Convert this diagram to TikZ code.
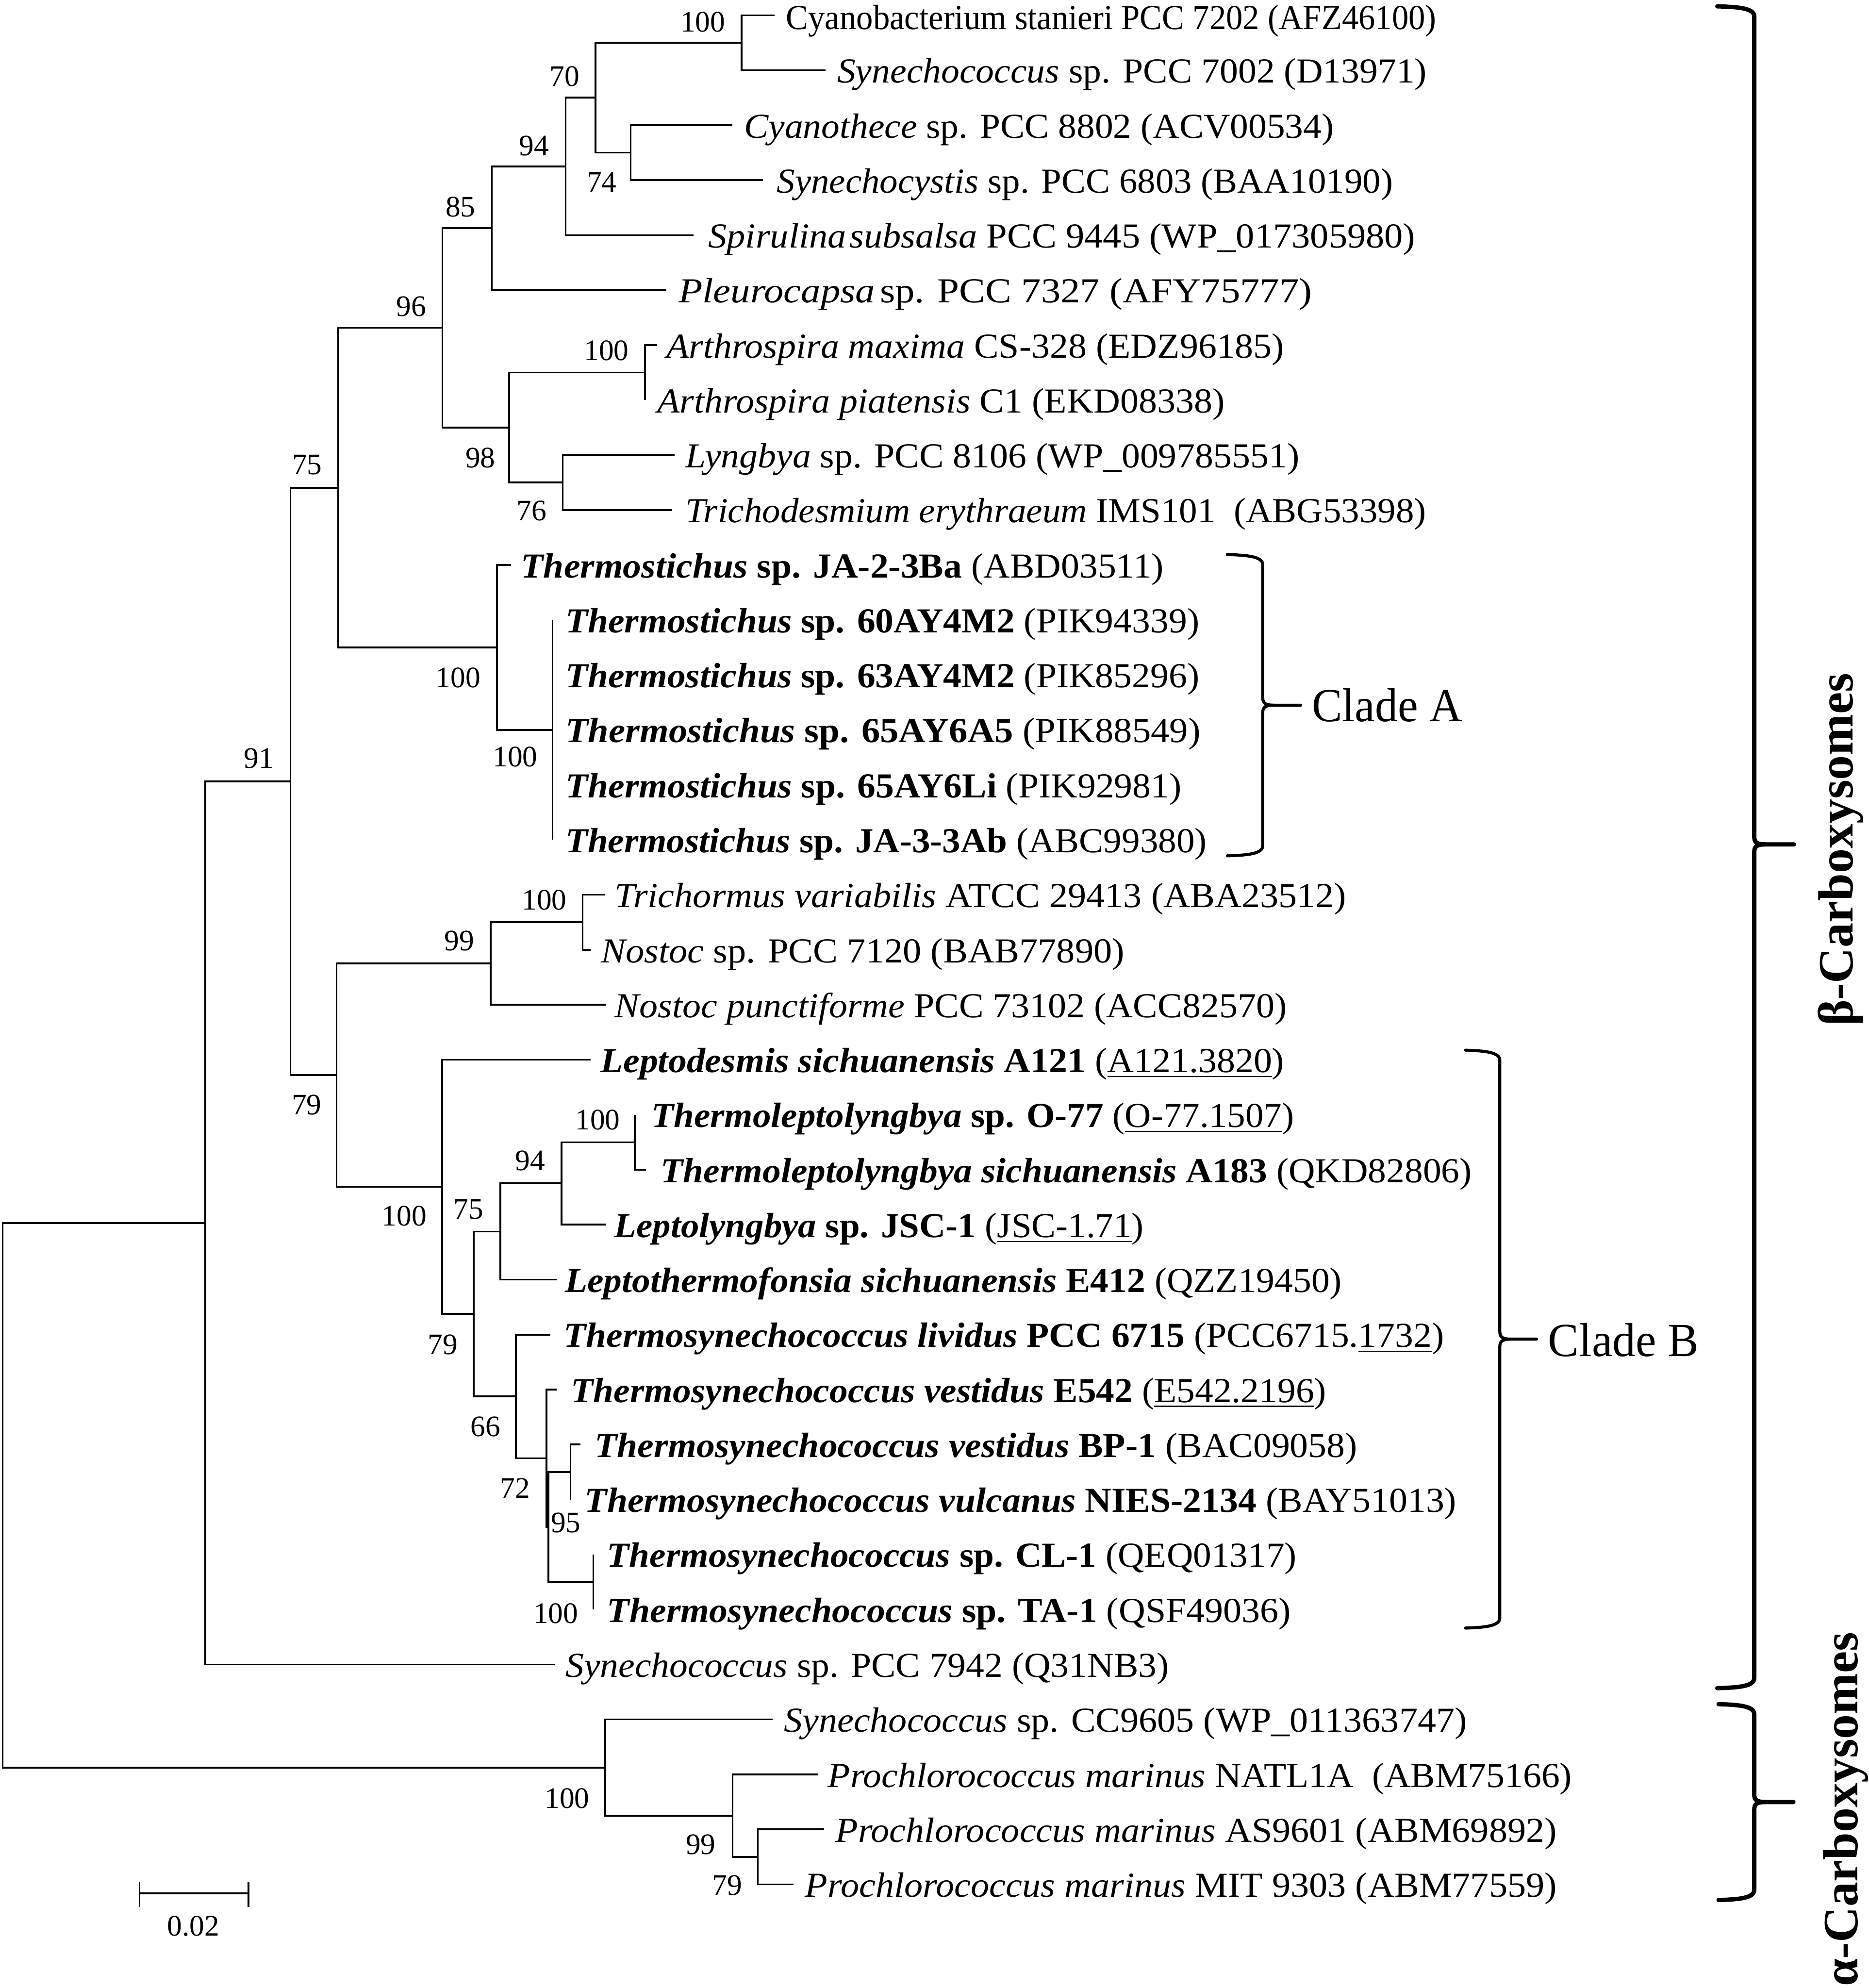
\documentclass[tikz,border=0pt]{standalone}
\usepackage{fontspec}
\setmainfont{Liberation Serif}
\usepackage{graphicx}
\newcommand{\leafnode}[5]{%
  \pgfmathsetmacro{\lfw}{(#3-#2)*0.5}%
  \node[leaftext] (#1) at ({#2},{#4+10}) {\resizebox{\lfw pt}{\height}{#5}};%
}
\newcommand{\cbrace}[7]{%
  \draw[#1] ({#2},{#5}) .. controls ({#3-12},{#5+0.5}) and ({#3},{#5+1.5}) .. ({#3},{#5+8}) -- ({#3},{#6-6}) .. controls ({#3},{#6-1.5}) and ({#3+2},{#6}) .. ({#3+9},{#6}) -- ({#4},{#6});
  \draw[#1] ({#3+9},{#6}) .. controls ({#3+2},{#6}) and ({#3},{#6+1.5}) .. ({#3},{#6+6}) -- ({#3},{#7-8}) .. controls ({#3},{#7-1.5}) and ({#3-12},{#7-0.5}) .. ({#2},{#7});
}
\begin{document}
\begin{tikzpicture}[x=0.5pt,y=-0.5pt,
  branch/.style={line width=0.7pt, line join=miter},
  leaftext/.style={anchor=base west, inner sep=0pt, outer sep=0pt, font=\fontsize{13.85}{16}\selectfont},
  bs/.style={anchor=east, inner sep=0pt, outer sep=0pt, font=\fontsize{11.75}{14}\selectfont},
  cladebrace/.style={line width=1.2pt, line cap=round},
  bigbrace/.style={line width=1.7pt, line cap=round},
  cladelabel/.style={anchor=west, inner sep=0pt, outer sep=0pt, font=\fontsize{18.75}{22}\selectfont},
  grouplabel/.style={rotate=90, inner sep=0pt, outer sep=0pt, font=\fontsize{19.5}{22}\selectfont\bfseries}]
\useasboundingbox (0,0) rectangle (1474,1568);

% internal nodes
\coordinate (nA) at (584.9,33.68);
\coordinate (nB) at (497.4,120.4);
\coordinate (nC) at (469.6,77.04);
\coordinate (nD) at (446.2,131.24);
\coordinate (nE) at (388,180.02);
\coordinate (nF) at (508.7,293.84);
\coordinate (nG) at (443.8,380.56);
\coordinate (nH) at (401.6,337.2);
\coordinate (nI) at (348.9,258.61);
\coordinate (nJ) at (435.8,575.68);
\coordinate (nK) at (391.9,510.64);
\coordinate (nL) at (266.9,384.63);
\coordinate (nM) at (459.5,727.44);
\coordinate (nN) at (387,759.96);
\coordinate (nO) at (500.8,900.88);
\coordinate (nP) at (442.8,933.4);
\coordinate (nQ) at (394.6,971.34);
\coordinate (nR) at (468,1247.76);
\coordinate (nS) at (450,1161.04);
\coordinate (nT) at (432.5,1204.4);
\coordinate (nU) at (431,1150.2);
\coordinate (nV) at (407,1101.42);
\coordinate (nW) at (373.6,1036.38);
\coordinate (nX) at (348.8,936.11);
\coordinate (nY) at (265.5,848.04);
\coordinate (nZ) at (229.1,616.34);
\coordinate (nAA) at (161.9,964.57);
\coordinate (nBC) at (597.7,1464.56);
\coordinate (nBD) at (577.8,1432.04);
\coordinate (nBE) at (477.3,1394.1);
\coordinate (root) at (2.1,1179.34);

% leaf tips
\coordinate (e1) at (611,12);
\coordinate (e2) at (651.2,55.36);
\coordinate (e3) at (577.5,98.72);
\coordinate (e4) at (601.8,142.08);
\coordinate (e5) at (547,185.44);
\coordinate (e6) at (525.5,228.8);
\coordinate (e7) at (518.5,272.16);
\coordinate (e8) at (508.7,315.52);
\coordinate (e9) at (532.1,358.88);
\coordinate (e10) at (530.2,402.24);
\coordinate (e11) at (403.2,445.6);
\coordinate (e12) at (435.8,488.96);
\coordinate (e13) at (435.8,532.32);
\coordinate (e14) at (435.8,575.68);
\coordinate (e15) at (435.8,619.04);
\coordinate (e16) at (435.8,662.4);
\coordinate (e17) at (477,705.76);
\coordinate (e18) at (466,749.12);
\coordinate (e19) at (478,792.48);
\coordinate (e20) at (466,835.84);
\coordinate (e21) at (500.8,879.2);
\coordinate (e22) at (509.4,922.56);
\coordinate (e23) at (477.9,965.92);
\coordinate (e24) at (439.1,1009.28);
\coordinate (e25) at (434,1052.64);
\coordinate (e26) at (439,1096);
\coordinate (e27) at (458,1139.36);
\coordinate (e28) at (450,1182.72);
\coordinate (e29) at (468,1226.08);
\coordinate (e30) at (468,1269.44);
\coordinate (e31) at (437.9,1312.8);
\coordinate (e32) at (609.3,1356.16);
\coordinate (e33) at (645,1399.52);
\coordinate (e34) at (650,1442.88);
\coordinate (e35) at (625.9,1486.24);

% branches
\draw[branch] (nA) |- (e1); \draw[branch] (nA) |- (e2);
\draw[branch] (nB) |- (e3); \draw[branch] (nB) |- (e4);
\draw[branch] (nC) |- (nA); \draw[branch] (nC) |- (nB);
\draw[branch] (nD) |- (nC); \draw[branch] (nD) |- (e5);
\draw[branch] (nE) |- (nD); \draw[branch] (nE) |- (e6);
\draw[branch] (nF) |- (e7); \draw[branch] (nF) |- (e8);
\draw[branch] (nG) |- (e9); \draw[branch] (nG) |- (e10);
\draw[branch] (nH) |- (nF); \draw[branch] (nH) |- (nG);
\draw[branch] (nI) |- (nE); \draw[branch] (nI) |- (nH);
\draw[branch] (nJ) |- (e12); \draw[branch] (nJ) |- (e13); \draw[branch] (nJ) |- (e14);
\draw[branch] (nJ) |- (e15); \draw[branch] (nJ) |- (e16);
\draw[branch] (nK) |- (e11); \draw[branch] (nK) |- (nJ);
\draw[branch] (nL) |- (nI); \draw[branch] (nL) |- (nK);
\draw[branch] (nM) |- (e17); \draw[branch] (nM) |- (e18);
\draw[branch] (nN) |- (nM); \draw[branch] (nN) |- (e19);
\draw[branch] (nO) |- (e21); \draw[branch] (nO) |- (e22);
\draw[branch] (nP) |- (nO); \draw[branch] (nP) |- (e23);
\draw[branch] (nQ) |- (nP); \draw[branch] (nQ) |- (e24);
\draw[branch] (nR) |- (e29); \draw[branch] (nR) |- (e30);
\draw[branch] (nS) |- (e27); \draw[branch] (nS) |- (e28);
\draw[branch] (nT) |- (nS); \draw[branch] (nT) |- (nR);
\draw[branch] (nU) |- (e26); \draw[branch] (nU) |- (nT);
\draw[branch] (nV) |- (e25); \draw[branch] (nV) |- (nU);
\draw[branch] (nW) |- (nQ); \draw[branch] (nW) |- (nV);
\draw[branch] (nX) |- (e20); \draw[branch] (nX) |- (nW);
\draw[branch] (nY) |- (nN); \draw[branch] (nY) |- (nX);
\draw[branch] (nZ) |- (nL); \draw[branch] (nZ) |- (nY);
\draw[branch] (nAA) |- (nZ); \draw[branch] (nAA) |- (e31);
\draw[branch] (nBC) |- (e34); \draw[branch] (nBC) |- (e35);
\draw[branch] (nBD) |- (e33); \draw[branch] (nBD) |- (nBC);
\draw[branch] (nBE) |- (e32); \draw[branch] (nBE) |- (nBD);
\draw[branch] (root) |- (nAA); \draw[branch] (root) |- (nBE);

% leaf labels
\leafnode{t1}{620}{1133}{13}{Cyanobacterium stanieri PCC 7202 (AFZ46100)}
\leafnode{t2}{660.4}{1125.5}{55.36}{\textit{Synechococcus} sp. PCC 7002 (D13971)}
\leafnode{t3}{587}{1052.2}{98.72}{\textit{Cyanothece} sp. PCC 8802 (ACV00534)}
\leafnode{t4}{612.7}{1098.8}{142.08}{\textit{Synechocystis} sp. PCC 6803 (BAA10190)}
\leafnode{t5}{558.7}{1116.4}{185.44}{\textit{Spirulina\hspace{0.08em}subsalsa} PCC 9445 (WP\_017305980)}
\leafnode{t6}{535.2}{1035}{228.8}{\textit{Pleurocapsa}\hspace{0.12em}sp. PCC 7327 (AFY75777)}
\leafnode{t7}{525.7}{1013}{272.16}{\textit{Arthrospira maxima} CS-328 (EDZ96185)}
\leafnode{t8}{518.4}{966}{315.52}{\textit{Arthrospira piatensis} C1 (EKD08338)}
\leafnode{t9}{540.6}{1025}{358.88}{\textit{Lyngbya} sp. PCC 8106 (WP\_009785551)}
\leafnode{t10}{540.6}{1125}{402.24}{\textit{Trichodesmium erythraeum} IMS101\ \ (ABG53398)}
\leafnode{t11}{411}{918}{445.6}{\textbf{\textit{Thermostichus} sp. JA-2-3Ba} (ABD03511)}
\leafnode{t12}{446}{946}{488.96}{\textbf{\textit{Thermostichus} sp. 60AY4M2} (PIK94339)}
\leafnode{t13}{446}{946}{532.32}{\textbf{\textit{Thermostichus} sp. 63AY4M2} (PIK85296)}
\leafnode{t14}{446}{947}{575.68}{\textbf{\textit{Thermostichus} sp. 65AY6A5} (PIK88549)}
\leafnode{t15}{446}{932}{619.04}{\textbf{\textit{Thermostichus} sp. 65AY6Li} (PIK92981)}
\leafnode{t16}{446}{952}{662.4}{\textbf{\textit{Thermostichus} sp. JA-3-3Ab} (ABC99380)}
\leafnode{t17}{485}{1062}{705.76}{\textit{Trichormus variabilis} ATCC 29413 (ABA23512)}
\leafnode{t18}{474}{887}{749.12}{\textit{Nostoc} sp. PCC 7120 (BAB77890)}
\leafnode{t19}{485}{1015}{792.48}{\textit{Nostoc punctiforme} PCC 73102 (ACC82570)}
\leafnode{t20}{473.9}{1013}{835.84}{\textbf{\textit{Leptodesmis sichuanensis} A121} (\underline{A121.3820})}
\leafnode{t21}{513.9}{1020.8}{879.2}{\textbf{\textit{Thermoleptolyngbya} sp. O-77} (\underline{O-77.1507})}
\leafnode{t22}{521.3}{1161}{922.56}{\textbf{\textit{Thermoleptolyngbya sichuanensis} A183} (QKD82806)}
\leafnode{t23}{484.6}{902.2}{965.92}{\textbf{\textit{Leptolyngbya} sp. JSC-1} (\underline{JSC-1.71})}
\leafnode{t24}{445.6}{1058.4}{1009.28}{\textbf{\textit{Leptothermofonsia sichuanensis} E412} (QZZ19450)}
\leafnode{t25}{444.6}{1139}{1052.64}{\textbf{\textit{Thermosynechococcus lividus} PCC 6715} (PCC6715.\underline{1732})}
\leafnode{t26}{450.4}{1046.2}{1096}{\textbf{\textit{Thermosynechococcus vestidus} E542} (\underline{E542.2196})}
\leafnode{t27}{469}{1070.6}{1139.36}{\textbf{\textit{Thermosynechococcus vestidus} BP-1} (BAC09058)}
\leafnode{t28}{461.2}{1148.8}{1182.72}{\textbf{\textit{Thermosynechococcus vulcanus} NIES-2134} (BAY51013)}
\leafnode{t29}{478.8}{1022.8}{1226.08}{\textbf{\textit{Thermosynechococcus} sp. CL-1} (QEQ01317)}
\leafnode{t30}{478.8}{1018}{1269.44}{\textbf{\textit{Thermosynechococcus} sp. TA-1} (QSF49036)}
\leafnode{t31}{446.2}{922}{1312.8}{\textit{Synechococcus} sp. PCC 7942 (Q31NB3)}
\leafnode{t32}{618.4}{1157}{1356.16}{\textit{Synechococcus} sp. CC9605 (WP\_011363747)}
\leafnode{t33}{653}{1240}{1399.52}{\textit{Prochlorococcus marinus} NATL1A\ \ (ABM75166)}
\leafnode{t34}{659}{1228}{1442.88}{\textit{Prochlorococcus marinus} AS9601 (ABM69892)}
\leafnode{t35}{635}{1228}{1486.24}{\textit{Prochlorococcus marinus} MIT\ 9303 (ABM77559)}

% bootstrap values
\node[bs] (bA) at (572,17.5) {100};
\node[bs] (bC) at (457,60.4) {70};
\node[bs] (bB) at (486.4,143.7) {74};
\node[bs] (bD) at (432.9,115) {94};
\node[bs] (bE) at (375,163.2) {85};
\node[bs] (bI) at (336,241.7) {96};
\node[bs] (bF) at (496,276.7) {100};
\node[bs] (bH) at (390.7,361.3) {98};
\node[bs] (bG) at (431,403) {76};
\node[bs] (bL) at (254,366.6) {75};
\node[bs] (bK) at (379,534.4) {100};
\node[bs] (bJ) at (424,596.8) {100};
\node[bs] (bZ) at (216,598) {91};
\node[bs] (bM) at (447,710) {100};
\node[bs] (bN) at (374,742) {99};
\node[bs] (bY) at (253.6,871.5) {79};
\node[bs] (bX) at (336.5,959.1) {100};
\node[bs] (bO) at (489,883.1) {100};
\node[bs] (bP) at (430,915.6) {94};
\node[bs] (bQ) at (381.3,953.7) {75};
\node[bs] (bW) at (361,1060.6) {79};
\node[bs] (bV) at (394.6,1125.4) {66};
\node[bs] (bU) at (418,1173.8) {72};
\node[bs] (bT) at (458,1201) {95};
\node[bs] (bR) at (456,1272.5) {100};
\node[bs] (bBE) at (464.9,1418.5) {100};
\node[bs] (bBD) at (564.5,1455) {99};
\node[bs] (bBC) at (585.2,1487) {79};

% scale bar
\coordinate (sbl) at (110,1493.3);
\coordinate (sbr) at (195.9,1493.3);
\coordinate (sbla) at (110,1484.4);
\coordinate (sblb) at (110,1503.9);
\coordinate (sbra) at (195.9,1484.4);
\coordinate (sbrb) at (195.9,1503.9);
\draw[branch] (sbl) -- (sbr);
\draw[branch] (sbla) -- (sblb);
\draw[branch] (sbra) -- (sbrb);
\node[bs, anchor=center] (sblab) at (152.5,1519.3) {0.02};

% clade braces
\cbrace{cladebrace}{968.1}{996}{1026}{437.4}{556.2}{675}
\node[cladelabel] (cladeA) at (1034.8,556.2) {\resizebox{59.35pt}{\height}{Clade A}};
\cbrace{cladebrace}{1156}{1183}{1212}{828.3}{1056.2}{1284.1}
\node[cladelabel] (cladeB) at (1221,1057) {\resizebox{59.5pt}{\height}{Clade B}};

% group braces
\cbrace{bigbrace}{1354.5}{1383.7}{1415}{5}{666}{1331.5}
\cbrace{bigbrace}{1355.5}{1383.7}{1414.6}{1344.1}{1421.3}{1498.6}
\node[grouplabel] (beta) at (1452,670) {β-Carboxysomes};
\node[grouplabel] (alpha) at (1456,1427) {α-Carboxysomes};
\end{tikzpicture}
\end{document}
